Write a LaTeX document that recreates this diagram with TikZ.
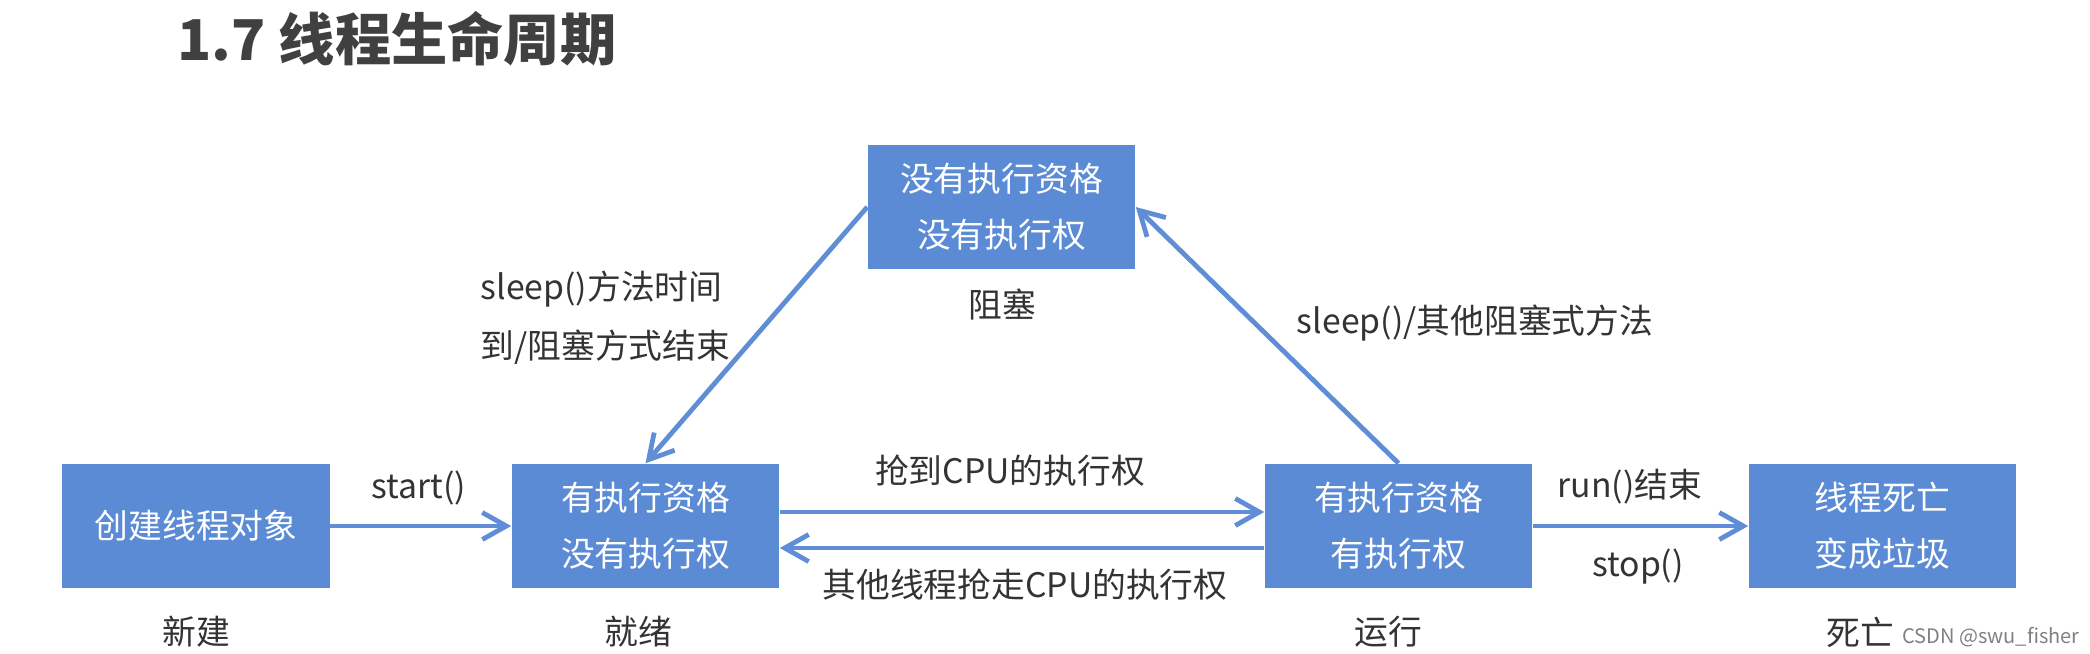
\documentclass[tikz,border=0pt]{standalone}
\usepackage{fontspec}
\setmainfont{Noto Sans CJK SC}
\usetikzlibrary{arrows.meta}
\definecolor{stateblue}{RGB}{91,139,213}
\definecolor{arrowblue}{RGB}{96,142,214}
\definecolor{labelgray}{RGB}{51,51,51}
\definecolor{titlegray}{RGB}{64,64,64}
\tikzset{
  statebox/.style={fill=stateblue, text=white, align=center, minimum width=2.67cm, minimum height=1.24cm, inner sep=0pt, font=\fontsize{9.6pt}{15.9pt}\selectfont},
  lbl/.style={text=labelgray, inner sep=0pt, font=\fontsize{9.6pt}{16.7pt}\selectfont},
  arr/.style={-{Straight Barb[length=2.4mm,width=2.7mm]}, line width=0.48mm, draw=arrowblue},
}
\begin{document}
\begin{tikzpicture}[x=0.01cm,y=-0.01cm]
  \useasboundingbox (0,0) rectangle (2090,653);
  \node[font=\fontsize{16pt}{16pt}\selectfont\bfseries, text=titlegray, anchor=west, inner sep=0pt] (title) at (177,39) {1.7 线程生命周期};
  % states
  \node[statebox] (new) at (196,526) {创建线程对象};
  \node[statebox] (ready) at (645.5,526) {有执行资格\\没有执行权};
  \node[statebox] (run) at (1398.5,526) {有执行资格\\有执行权};
  \node[statebox] (dead) at (1882.5,526) {线程死亡\\变成垃圾};
  \node[statebox] (blk) at (1001.5,207) {没有执行资格\\没有执行权};
  \node[lbl] (newlbl) at (196,632) {新建};
  \node[lbl] (readylbl) at (638,632) {就绪};
  \node[lbl] (runlbl) at (1388,632) {运行};
  \node[lbl] (deadlbl) at (1860,632) {死亡};
  \node[lbl] (blklbl) at (1002,304) {阻塞};
  % transitions
  \draw[arr] (new) -- (ready);
  \draw[arr] ([yshift=0.14cm]ready.east) -- ([yshift=0.14cm]run.west);
  \draw[arr] ([yshift=-0.22cm]run.west) -- ([yshift=-0.22cm]ready.east);
  \draw[arr] (run) -- (dead);
  \draw[arr] (blk.west) -- (ready.north);
  \draw[arr] (run.north) -- (blk.east);
  \node[lbl] (startlbl) at (419,488) {start()};
  \node[lbl] (grablbl) at (1010,471) {抢到CPU的执行权};
  \node[lbl] (loselbl) at (1025,585) {其他线程抢走CPU的执行权};
  \node[lbl] (endlbl) at (1630,487) {run()结束};
  \node[lbl] (stoplbl) at (1638,567) {stop()};
  \node[lbl, align=left, anchor=west] (wakelbl) at (480,318) {sleep()方法时间\\到/阻塞方式结束};
  \node[lbl] (sleeplbl) at (1475,323) {sleep()/其他阻塞式方法};
  \node[text=gray, inner sep=0pt, font=\fontsize{5.7pt}{6pt}\selectfont] (mark) at (1991,637) {CSDN @swu\_fisher};
\end{tikzpicture}
\end{document}
